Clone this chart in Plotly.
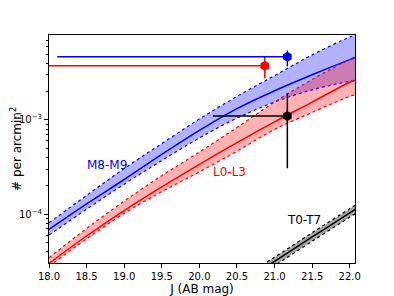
import math
import plotly.graph_objects as go

# Model grid (J, AB mag)
J_grid = [18.0, 18.5, 19.0, 19.5, 20.0, 20.5, 21.0, 21.5, 22.0, 22.1]

# M8-M9 (blue)
m_mid = [6.92e-5, 1.29e-4, 2.34e-4, 4.32e-4, 7.76e-4, 1.32e-3, 2.04e-3, 3.02e-3, 4.37e-3, 4.68e-3]
m_up = [8.13e-5, 1.585e-4, 3.055e-4, 5.62e-4, 1.023e-3, 1.778e-3, 2.951e-3, 4.898e-3, 7.586e-3, 8.128e-3]
m_lo = [6.03e-5, 1.135e-4, 2.089e-4, 3.715e-4, 6.457e-4, 1.047e-3, 1.549e-3, 2.089e-3, 2.57e-3, 2.661e-3]

# L0-L3 (red)
l_mid = [3.02e-5, 5.89e-5, 1.096e-4, 1.95e-4, 3.388e-4, 5.754e-4, 9.55e-4, 1.549e-3, 2.512e-3, 2.692e-3]
l_up = [3.467e-5, 7.08e-5, 1.38e-4, 2.57e-4, 4.571e-4, 8.318e-4, 1.549e-3, 2.692e-3, 4.365e-3, 4.677e-3]
l_lo = [2.818e-5, 5.495e-5, 1.023e-4, 1.738e-4, 2.818e-4, 4.677e-4, 7.943e-4, 1.202e-3, 1.778e-3, 1.862e-3]

# T0-T7 (black)
T_grid = [20.9, 21.0, 21.5, 22.0, 22.1]
t_mid = [2.818e-5, 3.162e-5, 5.754e-5, 1.035e-4, 1.161e-4]
t_up = [3.126e-5, 3.508e-5, 6.383e-5, 1.148e-4, 1.288e-4]
t_lo = [2.541e-5, 2.851e-5, 5.188e-5, 9.333e-5, 1.047e-4]

# Observed points: L0-L3 (red), M8-M9 (blue), T (black)
pt_J = [20.87, 21.17, 21.17]
pt_N = [3.77e-3, 4.69e-3, 1.10e-3]
pt_Jlo = [18.0, 18.11, 20.18]
pt_Nhi = [4.69e-3, 5.45e-3, 1.92e-3]
pt_Nlo = [2.77e-3, 3.70e-3, 3.08e-4]
pt_colors = ["#ff0000", "#0000ff", "#000000"]

labels = ["M8-M9", "L0-L3", "T0-T7"]
label_J = [18.77, 20.40, 21.39]
label_N = [3.33e-4, 2.81e-4, 8.81e-5]
label_colors = ["#0000ff", "#ff0000", "#000000"]

x_title = "J (AB mag)"
y_title = "# per arcmin<sup>2</sup>"

fig = go.Figure()

def band(x, lo, up, mid, color, fill):
    fig.add_trace(go.Scatter(x=x, y=lo, mode="lines", line=dict(color=color, width=1.2, dash="dot", shape="spline"),
                             showlegend=False, hoverinfo="skip"))
    fig.add_trace(go.Scatter(x=x, y=up, mode="lines", line=dict(color=color, width=1.2, dash="dot", shape="spline"),
                             fill="tonexty", fillcolor=fill, showlegend=False, hoverinfo="skip"))
    fig.add_trace(go.Scatter(x=x, y=mid, mode="lines", line=dict(color=color, width=1.5, shape="spline"),
                             showlegend=False, hoverinfo="skip"))

band(J_grid, m_lo, m_up, m_mid, "#0000ff", "rgba(0,0,255,0.3)")
band(J_grid, l_lo, l_up, l_mid, "#ff0000", "rgba(255,0,0,0.3)")
band(T_grid, t_lo, t_up, t_mid, "#000000", "rgba(0,0,0,0.35)")

for i in range(3):
    fig.add_trace(go.Scatter(
        x=[pt_J[i]], y=[pt_N[i]], mode="markers",
        marker=dict(symbol="hexagon", size=10, color=pt_colors[i]),
        error_x=dict(type="data", symmetric=False, array=[0], arrayminus=[pt_J[i] - pt_Jlo[i]],
                     color=pt_colors[i], thickness=1.5, width=0),
        error_y=dict(type="data", symmetric=False, array=[pt_Nhi[i] - pt_N[i]], arrayminus=[pt_N[i] - pt_Nlo[i]],
                     color=pt_colors[i], thickness=1.5, width=0),
        showlegend=False, hoverinfo="skip"))

for txt, x, y, c in zip(labels, label_J, label_N, label_colors):
    fig.add_annotation(x=x, y=math.log10(y), yref="y", xref="x", text=txt, showarrow=False,
                       font=dict(size=12, color=c, family="DejaVu Sans"), xanchor="center", yanchor="middle")

# y-axis title placed as rotated annotation (left of tick labels)
fig.add_annotation(x=-0.108, y=0.5, xref="paper", yref="paper", text=y_title, showarrow=False,
                   textangle=-90, font=dict(size=12, color="black", family="DejaVu Sans"),
                   xanchor="center", yanchor="middle")

x_ticks = [18.0, 18.5, 19.0, 19.5, 20.0, 20.5, 21.0, 21.5, 22.0]
x_ticktext = ["18.0", "18.5", "19.0", "19.5", "20.0", "20.5", "21.0", "21.5", "22.0"]
y_ticks = [1e-4, 1e-3]
y_ticktext = ["10<sup>\u22124</sup>", "10<sup>\u22123</sup>"]
y_minor = [3e-5, 4e-5, 5e-5, 6e-5, 7e-5, 8e-5, 9e-5,
           2e-4, 3e-4, 4e-4, 5e-4, 6e-4, 7e-4, 8e-4, 9e-4,
           2e-3, 3e-3, 4e-3, 5e-3, 6e-3, 7e-3]

# page body adds an 8px offset, so the figure is 8px smaller
fig.update_layout(
    width=386, height=288,
    margin=dict(l=41, r=39, t=27, b=33),
    paper_bgcolor="white", plot_bgcolor="white",
    font=dict(family="DejaVu Sans", size=10, color="black"),
    xaxis=dict(range=[18.0, 22.07], tickmode="array", tickvals=x_ticks, ticktext=x_ticktext,
               ticks="outside", ticklen=4, tickwidth=1, tickcolor="black",
               showline=True, linecolor="black", linewidth=1, mirror=True,
               showgrid=False, zeroline=False, automargin=False,
               title=dict(text=x_title, font=dict(size=12), standoff=2)),
    yaxis=dict(type="log", range=[-4.516, -2.099], tickmode="array", tickvals=y_ticks, ticktext=y_ticktext,
               ticks="outside", ticklen=4, tickwidth=1, tickcolor="black",
               minor=dict(tickmode="array", tickvals=y_minor, ticks="outside", ticklen=2, tickcolor="black"),
               showline=True, linecolor="black", linewidth=1, mirror=True,
               showgrid=False, zeroline=False, automargin=False),
)

fig.write_html("out.html")
